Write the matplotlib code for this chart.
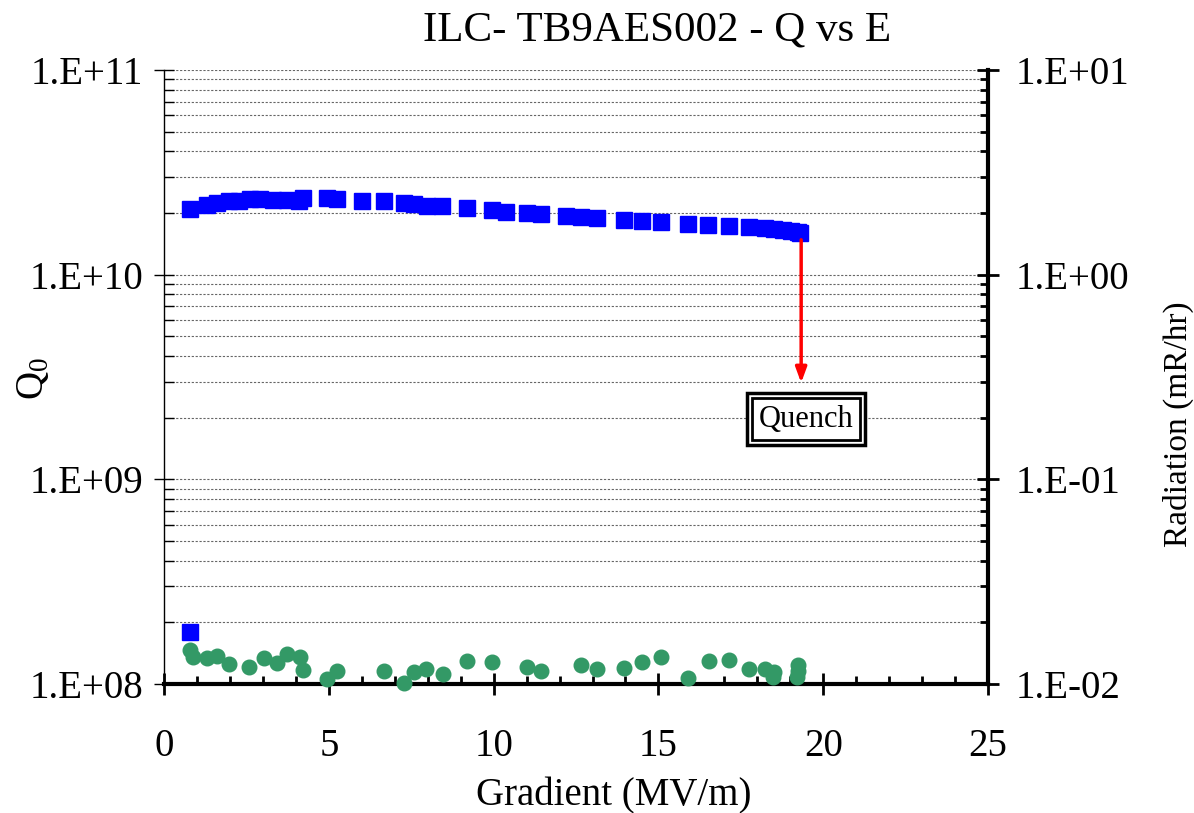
import numpy as np
import matplotlib
matplotlib.use("Agg")
import matplotlib.pyplot as plt
from matplotlib.ticker import LogLocator, NullFormatter, MultipleLocator

plt.rcParams['font.family'] = ['Liberation Serif', 'DejaVu Serif']
plt.rcParams['mathtext.fontset'] = 'custom'
plt.rcParams['mathtext.rm'] = 'Liberation Serif'
plt.rcParams['mathtext.it'] = 'Liberation Serif'

# Q0 vs gradient (blue squares)
grad_q = [0.79, 1.30, 1.60, 1.96, 2.26, 2.61, 2.92, 3.32, 3.73, 4.08, 4.23, 4.94,
          5.25, 6.01, 6.67, 7.27, 7.58, 7.98, 8.44, 9.20, 9.96, 10.36, 11.02, 11.43,
          12.19, 12.64, 13.13, 13.94, 14.50, 15.08, 15.89, 16.51, 17.15, 17.76,
          18.24, 18.52, 18.77, 19.03, 19.23, 19.28]
q0 = [2.09e10, 2.19e10, 2.23e10, 2.28e10, 2.29e10, 2.33e10, 2.33e10, 2.32e10, 2.32e10,
      2.29e10, 2.38e10, 2.36e10, 2.34e10, 2.30e10, 2.28e10, 2.23e10, 2.21e10, 2.17e10,
      2.16e10, 2.11e10, 2.07e10, 2.03e10, 2.01e10, 1.98e10, 1.94e10, 1.92e10, 1.90e10,
      1.85e10, 1.83e10, 1.81e10, 1.77e10, 1.74e10, 1.73e10, 1.71e10, 1.69e10, 1.67e10,
      1.65e10, 1.64e10, 1.62e10, 1.59e10]
# stray low point
grad_low = [0.79]
q0_low = [1.79e8]

# radiation vs gradient (green circles, right axis)
grad_r = [0.79, 0.89, 1.30, 1.60, 1.96, 2.59, 3.02, 3.44, 3.73, 4.11, 4.23, 4.95,
          5.25, 6.67, 7.29, 7.58, 7.96, 8.46, 9.20, 9.94, 11.02, 11.45, 12.64, 13.13,
          13.94, 14.50, 15.08, 15.89, 16.53, 17.15, 17.76, 18.24, 18.50, 18.47,
          19.23, 19.23, 19.21]
rad = [0.0147, 0.0136, 0.01346, 0.01377, 0.0125, 0.01216, 0.01346, 0.01264, 0.01403,
       0.0136, 0.01172, 0.0106, 0.0116, 0.01153, 0.01016, 0.0115, 0.01183, 0.01124,
       0.01288, 0.01274, 0.01216, 0.01163, 0.0124, 0.01183, 0.01193, 0.01274, 0.0136,
       0.0107, 0.01288, 0.01303, 0.0119, 0.01183, 0.0115, 0.01086, 0.0124, 0.01163,
       0.01086]

left_ticks = [1e8, 1e9, 1e10, 1e11]
left_labels = ['1.E+08', '1.E+09', '1.E+10', '1.E+11']
right_ticks = [1e-2, 1e-1, 1e0, 1e1]
right_labels = ['1.E-02', '1.E-01', '1.E+00', '1.E+01']

quench_x = 19.33
quench_top = 1.48e10
quench_tip = 2.96e9
box_x = 19.47
box_y = 1.97e9

fig = plt.figure(figsize=(11.94, 8.13), dpi=100)
ax = fig.add_axes([0.1374, 0.1587, 0.6901, 0.7552])
ax2 = ax.twinx()

ax.set_yscale('log')
ax.set_ylim(1e8, 1e11)
ax.set_xlim(0, 25)
ax2.set_yscale('log')
ax2.set_ylim(1e-2, 1e1)

# grid
ax.yaxis.set_minor_locator(LogLocator(base=10, subs=np.arange(2, 10)))
ax.yaxis.set_minor_formatter(NullFormatter())
ax.grid(True, which='both', axis='y', color='#666666', linestyle=(0, (2, 1.5)), lw=0.8)
ax.set_axisbelow(True)

ax.plot(grad_q, q0, 's', color='#0000FF', ms=11, mec='#0000FF', zorder=3, clip_on=False)
ax.plot(grad_low, q0_low, 's', color='#0000FF', ms=11, zorder=3)
ax2.plot(grad_r, rad, 'o', color='#339966', ms=10.5, mec='#339966', clip_on=False, zorder=3)

# quench arrow + box
ax.annotate('', xy=(quench_x, quench_tip), xytext=(quench_x, quench_top),
            arrowprops=dict(arrowstyle='-|>,head_length=0.9,head_width=0.33',
                            color='red', lw=2.5, shrinkA=0, shrinkB=0))
ax.text(box_x, box_y, 'Quench', fontsize=22, ha='center', va='center', color='none',
        bbox=dict(boxstyle='square,pad=0.38', fc='white', ec='black', lw=2.5), zorder=5)
ax.text(box_x, box_y, 'Quench', fontsize=22, ha='center', va='center', color='black',
        bbox=dict(boxstyle='square,pad=0.22', fc='white', ec='black', lw=2), zorder=6)

# ticks left
ax.set_yticks(left_ticks)
ax.set_yticklabels(left_labels)
ax.tick_params(axis='y', which='major', direction='inout', length=14, width=1,
               labelsize=28, pad=8)
ax.tick_params(axis='y', which='minor', direction='in', length=7, width=1)

# ticks bottom
ax.xaxis.set_major_locator(MultipleLocator(5))
ax.xaxis.set_minor_locator(MultipleLocator(1))
ax.tick_params(axis='x', which='major', direction='inout', length=16, width=2,
               labelsize=28, pad=24)
ax.tick_params(axis='x', which='minor', direction='in', length=6, width=2)

# ticks right
ax2.set_yticks(right_ticks)
ax2.set_yticklabels(right_labels)
ax2.yaxis.set_minor_locator(LogLocator(base=10, subs=np.arange(2, 10)))
ax2.yaxis.set_minor_formatter(NullFormatter())
ax2.tick_params(axis='y', which='major', direction='inout', length=16, width=2,
                labelsize=28, pad=12)
ax2.tick_params(axis='y', which='minor', direction='in', length=6, width=2)

for s in ['top', 'right']:
    ax.spines[s].set_visible(False)
for s in ['top', 'left', 'bottom']:
    ax2.spines[s].set_visible(False)
ax.spines['left'].set_linewidth(1)
ax.spines['bottom'].set_linewidth(3)
ax2.spines['right'].set_linewidth(3)

fig.text(0.5503, 0.963, 'ILC- TB9AES002 - Q vs E', fontsize=31, ha='center', va='center')
fig.text(0.514, 0.021, 'Gradient (MV/m)', fontsize=28, ha='center', va='center')
fig.text(0.028, 0.535, r'Q$_{\mathrm{0}}$', fontsize=28, ha='center', va='center', rotation=90)
fig.text(0.9866, 0.478, 'Radiation (mR/hr)', fontsize=24, ha='center', va='center', rotation=90)

fig.savefig('out.png', dpi=100)
